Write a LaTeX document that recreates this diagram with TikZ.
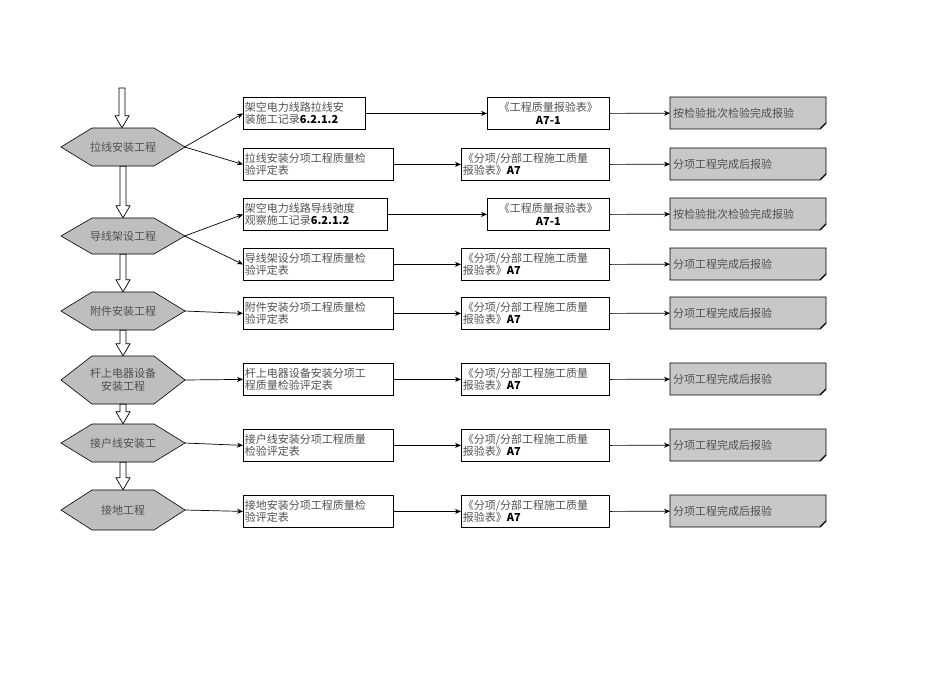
\documentclass[tikz,border=0pt]{standalone}
\usepackage{fontspec}
\setmainfont{Noto Sans CJK SC}
\usetikzlibrary{arrows.meta,calc}
\definecolor{txt}{HTML}{505050}
\definecolor{hexg}{HTML}{BEBEBE}
\definecolor{endg}{HTML}{C8C8C8}
\tikzset{
  every node/.style={font=\fontsize{11}{12.5}\selectfont, text=txt},
  hexn/.style={inner sep=0pt, minimum width=123pt},
  box/.style={draw=black, line width=0.8pt, anchor=north west, inner xsep=1.5pt, inner ysep=2pt, minimum height=32pt, text width=#1pt-3pt, align=left},
  cbox/.style={box=#1, align=center},
  endbox/.style={anchor=north west, inner sep=3pt, minimum width=156pt, minimum height=32pt, text width=150pt, align=left},
  conn/.style={-{Stealth[length=6pt,width=5pt]}, line width=0.7pt, black},
  harr/.style={draw=black, fill=white, line width=0.7pt},
}
\newcommand\hexa[5]{% name, cx, cy, halfheight, text
  \fill[hexg, draw=black, line width=0.6pt] (#2-61,#3) -- (#2-30,#3-#4) -- (#2+32,#3-#4) -- (#2+63,#3) -- (#2+32,#3+#4) -- (#2-30,#3+#4) -- cycle;
  \node[hexn, minimum height=2*#4 pt, align=center] (#1) at (#2+1,#3) {#5};
}
\newcommand\harrow[2]{\draw[harr] let \p1=#1, \p2=#2 in (\x1-3pt,\y1) -- (\x1-3pt,\y2+12pt) -- (\x1-7pt,\y2+12pt) -- (\x1,\y2) -- (\x1+7pt,\y2+12pt) -- (\x1+3pt,\y2+12pt) -- (\x1+3pt,\y1) -- cycle;}
\newcommand\finbox[4]{% name, x, y, text
  \fill[endg, draw=black, line width=0.6pt] (#2,#3) -- (#2+156,#3) -- (#2+156,#3+26) -- (#2+150,#3+32) -- (#2,#3+32) -- cycle;
  \draw[line width=1.2pt] (#2+156,#3+26) -- (#2+150,#3+32);
  \node[endbox] (#1) at (#2,#3) {#4};
}
\begin{document}
\begin{tikzpicture}[x=1pt,y=-1pt]
\useasboundingbox (0,0) rectangle (950,672);
\hexa{h1}{122}{147}{19}{拉线安装工程}
\hexa{h2}{122}{236}{18}{导线架设工程}
\hexa{h3}{122}{311}{19}{附件安装工程}
\hexa{h4}{122}{380}{24}{杆上电器设备\\安装工程}
\hexa{h5}{122}{443}{19}{接户线安装工}
\hexa{h6}{122}{510}{20}{接地工程}
\coordinate (top) at (122,88);
\harrow{(top)}{(h1.north)}
\harrow{(h1.south)}{(h2.north)}
\harrow{(h2.south)}{(h3.north)}
\harrow{(h3.south)}{(h4.north)}
\harrow{(h4.south)}{(h5.north)}
\harrow{(h5.south)}{(h6.north)}
\node[box=122] (b1) at (243,97) {架空电力线路拉线安\\装施工记录\textbf{\color{black}6.2.1.2}};
\node[box=150] (b2) at (243,148) {拉线安装分项工程质量检\\验评定表};
\node[box=144] (b3) at (243,198) {架空电力线路导线弛度\\观察施工记录\textbf{\color{black}6.2.1.2}};
\node[box=150] (b4) at (243,248) {导线架设分项工程质量检\\验评定表};
\node[box=150] (b5) at (243,297) {附件安装分项工程质量检\\验评定表};
\node[box=150] (b6) at (243,363) {杆上电器设备安装分项工\\程质量检验评定表};
\node[box=150] (b7) at (243,429) {接户线安装分项工程质量\\检验评定表};
\node[box=150] (b8) at (243,495) {接地安装分项工程质量检\\验评定表};
\node[cbox=122] (c1) at (487,97) {《工程质量报验表》\\\textbf{\color{black}A7-1}};
\node[box=148] (c2) at (461,148) {《分项/分部工程施工质量\\报验表》\textbf{\color{black}A7}};
\node[cbox=122] (c3) at (487,198) {《工程质量报验表》\\\textbf{\color{black}A7-1}};
\node[box=148] (c4) at (461,248) {《分项/分部工程施工质量\\报验表》\textbf{\color{black}A7}};
\node[box=148] (c5) at (461,297) {《分项/分部工程施工质量\\报验表》\textbf{\color{black}A7}};
\node[box=148] (c6) at (461,363) {《分项/分部工程施工质量\\报验表》\textbf{\color{black}A7}};
\node[box=148] (c7) at (461,429) {《分项/分部工程施工质量\\报验表》\textbf{\color{black}A7}};
\node[box=148] (c8) at (461,495) {《分项/分部工程施工质量\\报验表》\textbf{\color{black}A7}};
\finbox{d1}{670}{97}{按检验批次检验完成报验}
\finbox{d2}{670}{148}{分项工程完成后报验}
\finbox{d3}{670}{198}{按检验批次检验完成报验}
\finbox{d4}{670}{248}{分项工程完成后报验}
\finbox{d5}{670}{297}{分项工程完成后报验}
\finbox{d6}{670}{363}{分项工程完成后报验}
\finbox{d7}{670}{429}{分项工程完成后报验}
\finbox{d8}{670}{495}{分项工程完成后报验}
\draw[conn] (h1.east) -- (b1.west);
\draw[conn] (h1.east) -- (b2.west);
\draw[conn] (h2.east) -- (b3.west);
\draw[conn] (h2.east) -- (b4.west);
\draw[conn] (h3.east) -- (b5.west);
\draw[conn] (h4.east) -- (b6.west);
\draw[conn] (h5.east) -- (b7.west);
\draw[conn] (h6.east) -- (b8.west);
\foreach \i in {1,...,8}{
  \draw[conn] (b\i.east) -- (c\i.west);
  \draw[conn] (c\i.east) -- (d\i.west);
}
\end{tikzpicture}
\end{document}
